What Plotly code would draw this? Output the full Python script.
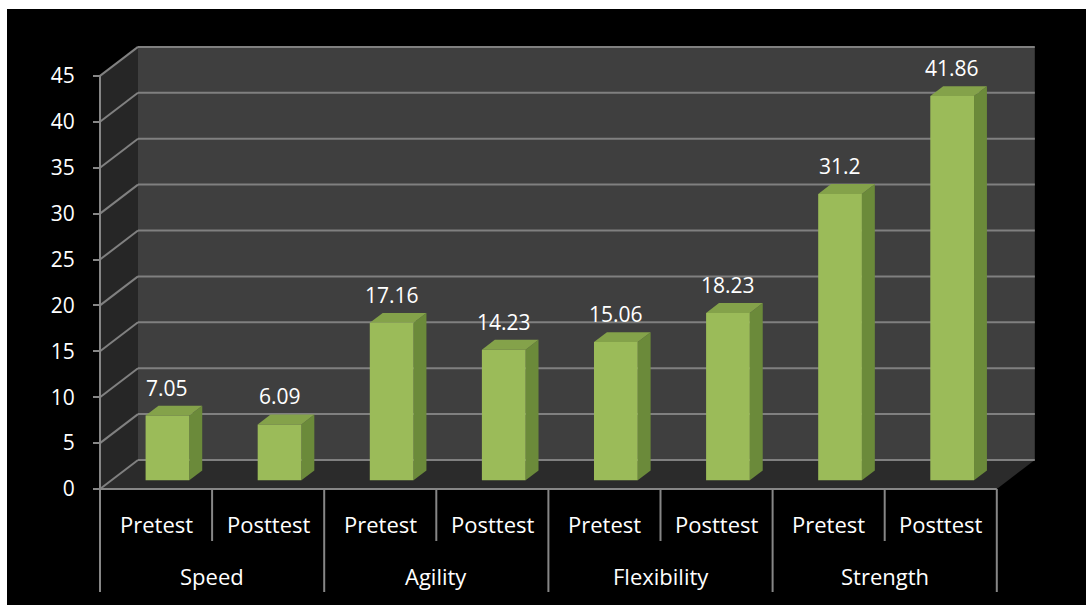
import plotly.graph_objects as go

# ---------------- data ----------------
groups = ["Speed", "Agility", "Flexibility", "Strength"]
phases = ["Pretest", "Posttest"]
values = [7.05, 6.09, 17.16, 14.23, 15.06, 18.23, 31.2, 41.86]
value_labels = ["7.05", "6.09", "17.16", "14.23", "15.06", "18.23", "31.2", "41.86"]
y_ticks = [0, 5, 10, 15, 20, 25, 30, 35, 40, 45]

# ---------------- layout constants ----------------
FIG_W, FIG_H = 1086, 605
L, R, T, B = 93, 46, 40, 110
W = FIG_W - L - R
H = FIG_H - T - B
PXC = 112.1          # px per category
PXV = 9.18           # px per value unit
XMIN = -7 / PXC
XMAX = XMIN + W / PXC
YMIN = -6 / PXV
YMAX = YMIN + H / PXV
DX = 38 / PXC        # depth offset (x)
DY = 29 / PXV        # depth offset (y)
F1, F2 = 0.30, 0.64  # bar depth span
BW = 0.39            # bar width
NCAT = len(values)
YTOP = y_ticks[-1]

FONT = "Open Sans"
GRID = "#808080"


def px(xd):
    return (xd - XMIN) / (XMAX - XMIN)


def py_from_px(Y):
    return (FIG_H - B - Y) / H


shapes = []
# side wall
shapes.append(dict(type="path", xref="x", yref="y", layer="below",
                   path=f"M 0,0 L {DX},{DY} L {DX},{YTOP + DY} L 0,{YTOP} Z",
                   fillcolor="#262626", line=dict(width=0)))
# back wall
shapes.append(dict(type="rect", xref="x", yref="y", layer="below",
                   x0=DX, y0=DY, x1=NCAT + DX, y1=YTOP + DY,
                   fillcolor="#3f3f3f", line=dict(width=0)))
# floor
shapes.append(dict(type="path", xref="x", yref="y", layer="below",
                   path=f"M 0,0 L {NCAT},0 L {NCAT + DX},{DY} L {DX},{DY} Z",
                   fillcolor="#2b2b2b", line=dict(width=0)))
# gridlines
for t in y_ticks:
    shapes.append(dict(type="line", xref="x", yref="y", layer="below",
                       x0=0, y0=t, x1=DX, y1=t + DY, line=dict(color=GRID, width=2)))
    shapes.append(dict(type="line", xref="x", yref="y", layer="below",
                       x0=DX, y0=t + DY, x1=NCAT + DX, y1=t + DY, line=dict(color=GRID, width=2)))
# front value axis line and category axis line
shapes.append(dict(type="line", xref="x", yref="y", layer="below",
                   x0=0, y0=0, x1=0, y1=YTOP, line=dict(color="#868686", width=2)))
shapes.append(dict(type="line", xref="x", yref="y", layer="below",
                   x0=0, y0=0, x1=NCAT, y1=0, line=dict(color="#868686", width=2)))

# bar side and top faces
SX = (F2 - F1) * DX
SY = (F2 - F1) * DY
base = F1 * DY
xc = [i + 0.5 + F1 * DX for i in range(NCAT)]
for c, v in zip(xc, values):
    xl, xr = c - BW / 2, c + BW / 2
    top = base + v
    shapes.append(dict(type="path", xref="x", yref="y", layer="below",
                       path=f"M {xr},{base} L {xr + SX},{base + SY} L {xr + SX},{top + SY} L {xr},{top} Z",
                       fillcolor="#6b8a3a", line=dict(width=0)))
    shapes.append(dict(type="path", xref="x", yref="y", layer="below",
                       path=f"M {xl},{top} L {xr},{top} L {xr + SX},{top + SY} L {xl + SX},{top + SY} Z",
                       fillcolor="#84a24a", line=dict(width=0)))

# category dividers (below plot)
for i in range(NCAT + 1):
    full = (i % len(phases) == 0)
    y_end = py_from_px(592) if full else py_from_px(541)
    shapes.append(dict(type="line", xref="paper", yref="paper",
                       x0=px(i), x1=px(i), y0=(0 - YMIN) / (YMAX - YMIN), y1=y_end,
                       line=dict(color="#868686", width=2)))

# white border strips (top / left)
shapes.append(dict(type="rect", xref="paper", yref="paper", layer="above",
                   x0=(0 - L) / W, x1=(FIG_W - L) / W, y0=py_from_px(9), y1=py_from_px(0),
                   fillcolor="white", line=dict(width=0)))
shapes.append(dict(type="rect", xref="paper", yref="paper", layer="above",
                   x0=(0 - L) / W, x1=(7 - L) / W, y0=py_from_px(FIG_H), y1=py_from_px(0),
                   fillcolor="white", line=dict(width=0)))

annotations = []
for c, v, lab in zip(xc, values, value_labels):
    annotations.append(dict(x=c, y=base + v, xref="x", yref="y", text=lab,
                            showarrow=False, yshift=28, yanchor="middle",
                            font=dict(color="white", size=21, family=FONT)))
for i in range(NCAT):
    annotations.append(dict(x=i + 0.5, y=py_from_px(524), xref="x", yref="paper",
                            text=phases[i % len(phases)], showarrow=False, yanchor="middle",
                            font=dict(color="white", size=22, family=FONT)))
for g, name in enumerate(groups):
    annotations.append(dict(x=g * len(phases) + len(phases) / 2, y=py_from_px(576),
                            xref="x", yref="paper", text=name, showarrow=False,
                            yanchor="middle", font=dict(color="white", size=22, family=FONT)))

fig = go.Figure()
fig.add_trace(go.Bar(x=xc, y=values, base=[base] * NCAT, width=BW,
                     marker=dict(color="#9bbb59", line=dict(width=0)),
                     hoverinfo="skip", showlegend=False))

fig.update_layout(
    width=FIG_W, height=FIG_H,
    margin=dict(l=L, r=R, t=T, b=B, pad=0),
    paper_bgcolor="black", plot_bgcolor="black",
    shapes=shapes, annotations=annotations,
    showlegend=False,
    xaxis=dict(range=[XMIN, XMAX], visible=False, fixedrange=True),
    yaxis=dict(range=[YMIN, YMAX], tickvals=y_ticks, ticktext=[str(t) for t in y_ticks],
               showgrid=False, zeroline=False, showline=False,
               ticks="outside", ticklen=7, tickwidth=2, tickcolor="#868686",
               anchor="free", position=(0 - XMIN) / (XMAX - XMIN),
               ticklabelstandoff=14,
               tickfont=dict(color="white", size=21, family=FONT), fixedrange=True),
)

fig.write_html("out.html")
